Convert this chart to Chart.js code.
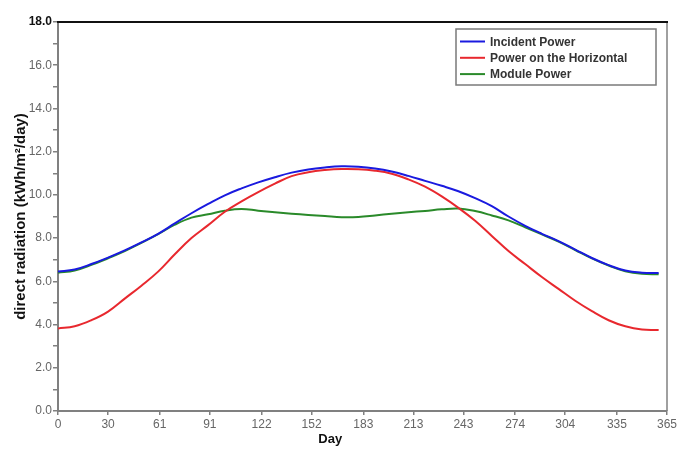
<!DOCTYPE html>
<html>
<head>
<meta charset="utf-8">
<script src="https://cdn.jsdelivr.net/npm/chart.js@4/dist/chart.umd.min.js"></script>
<style>
html,body{margin:0;padding:0;background:#fff;}
#wrap{position:relative;width:700px;height:460px;}
</style>
</head>
<body>
<div id="wrap"><canvas id="c"></canvas></div>
<script>
const days = [0,10,20,30,40,50,60,70,80,90,100,110,120,130,140,150,160,170,180,190,200,210,220,230,240,250,260,270,280,290,300,310,320,330,340,350,360];
const incidentPower = [6.45,6.55,6.8,7.1,7.43,7.8,8.2,8.68,9.15,9.58,9.98,10.3,10.58,10.82,11.03,11.18,11.27,11.32,11.3,11.22,11.08,10.88,10.65,10.42,10.17,9.85,9.48,9.0,8.57,8.2,7.86,7.47,7.08,6.75,6.5,6.4,6.38];
const horizontalPower = [3.82,3.92,4.2,4.6,5.2,5.8,6.45,7.25,8.0,8.6,9.22,9.7,10.13,10.52,10.87,11.05,11.15,11.2,11.19,11.12,10.98,10.72,10.38,9.93,9.4,8.8,8.1,7.4,6.8,6.2,5.65,5.1,4.62,4.2,3.92,3.77,3.75];
const modulePower = [6.4,6.5,6.76,7.07,7.4,7.78,8.18,8.62,8.95,9.1,9.27,9.35,9.27,9.2,9.13,9.07,9.02,8.97,8.98,9.05,9.13,9.2,9.26,9.33,9.37,9.25,9.05,8.82,8.5,8.17,7.84,7.45,7.06,6.73,6.47,6.35,6.33];
const xTicks = [0,30,61,91,122,152,183,213,243,274,304,335,365];
const seriesLabels = ['Incident Power','Power on the Horizontal','Module Power'];
const xTitle = 'Day';
const yTitle = 'direct radiation (kWh/m\u00B2/day)';

const toPts = arr => arr.map((v,i)=>({x:days[i],y:v}));

const framePlugin = {
  id:'frame',
  afterDraw(chart){
    const {ctx, chartArea:a} = chart;
    ctx.save();
    ctx.strokeStyle = '#808080'; ctx.lineWidth = 1.5;
    ctx.beginPath(); ctx.moveTo(a.right, a.top); ctx.lineTo(a.right, a.bottom); ctx.stroke();
    ctx.strokeStyle = '#111'; ctx.lineWidth = 2.2;
    ctx.beginPath(); ctx.moveTo(a.left-1, a.top); ctx.lineTo(a.right+1, a.top); ctx.stroke();
    ctx.fillStyle = '#111';
    ctx.font = 'bold 13px "Liberation Sans", Arial, sans-serif';
    ctx.textAlign = 'center'; ctx.textBaseline = 'middle';
    ctx.fillText(xTitle, a.left + (a.right-a.left)*0.447, a.bottom + 28);
    const bx = a.right - 211, by = a.top + 7, bw = 200, bh = 56;
    ctx.strokeStyle = '#7a7a7a'; ctx.lineWidth = 1.5;
    ctx.strokeRect(bx, by, bw, bh);
    ctx.font = 'bold 12px "Liberation Sans", Arial, sans-serif';
    ctx.textAlign = 'left';
    chart.data.datasets.forEach((ds,i)=>{
      const yy = by + 12.5 + i*16.3;
      ctx.strokeStyle = ds.borderColor; ctx.lineWidth = 2;
      ctx.beginPath(); ctx.moveTo(bx+4, yy); ctx.lineTo(bx+29, yy); ctx.stroke();
      ctx.fillStyle = '#333';
      ctx.fillText(ds.label, bx+34, yy+1);
    });
    ctx.restore();
  }
};

new Chart(document.getElementById('c'), {
  type:'line',
  data:{
    datasets:[
      {label:seriesLabels[0], data:toPts(incidentPower), borderColor:'#1a1adf', borderWidth:2, pointRadius:0, tension:0.4, fill:false},
      {label:seriesLabels[1], data:toPts(horizontalPower), borderColor:'#e8282e', borderWidth:2, pointRadius:0, tension:0.4, fill:false},
      {label:seriesLabels[2], data:toPts(modulePower), borderColor:'#2a8a2a', borderWidth:2, pointRadius:0, tension:0.4, fill:false}
    ]
  },
  options:{
    responsive:true, maintainAspectRatio:false, animation:false, devicePixelRatio:1,
    layout:{padding:{left:12,right:33,top:22,bottom:0}},
    plugins:{legend:{display:false}, tooltip:{enabled:false}},
    scales:{
      x:{
        type:'linear', min:0, max:365,
        afterBuildTicks(s){ s.ticks = xTicks.map(v=>({value:v})); },
        afterFit(s){ s.height = 49; },
        grid:{display:true, drawOnChartArea:false, drawTicks:true, tickLength:4, color:'#808080', lineWidth:1.5},
        border:{display:true, color:'#808080', width:2},
        ticks:{autoSkip:false, maxRotation:0, padding:2, color:'#666', font:{family:'"Liberation Sans", Arial, sans-serif', size:12}, callback:v=>String(v)}
      },
      y:{
        min:0, max:18,
        afterBuildTicks(s){ const t=[]; for(let v=0; v<=18; v++) t.push({value:v}); s.ticks=t; },
        afterFit(s){ s.width = 46; },
        grid:{display:true, drawOnChartArea:false, drawTicks:true, tickLength:5, color:'#808080', lineWidth:1.5},
        border:{display:true, color:'#808080', width:2},
        title:{display:true, text:yTitle, color:'#111', padding:{top:0,bottom:0}, font:{family:'"Liberation Sans", Arial, sans-serif', size:15, weight:'bold'}},
        ticks:{autoSkip:false, padding:1, color:(c)=>c.tick.value===18?'#111':'#666',
          font:(c)=>({family:'"Liberation Sans", Arial, sans-serif', size:12, weight:(c.tick && c.tick.value===18)?'bold':'normal'}),
          callback:v=> (v%2===0 ? v.toFixed(1) : '')}
      }
    }
  },
  plugins:[framePlugin]
});
</script>
</body>
</html>
